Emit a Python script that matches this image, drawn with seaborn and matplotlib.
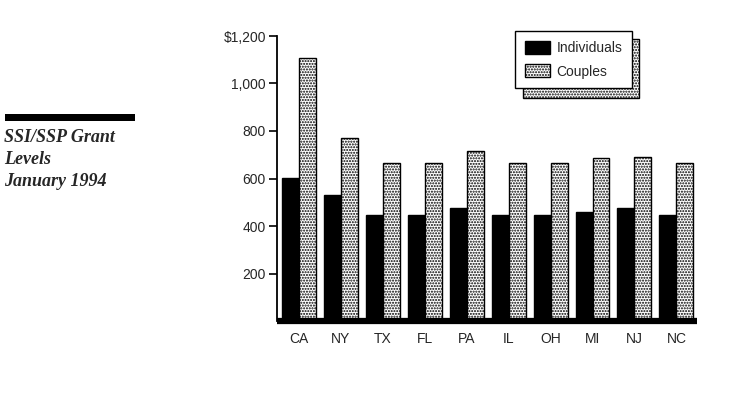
import matplotlib
matplotlib.use("Agg")
import matplotlib.pyplot as plt
import seaborn as sns
import pandas as pd
from matplotlib.patches import Rectangle, Patch

states = ["CA", "NY", "TX", "FL", "PA", "IL", "OH", "MI", "NJ", "NC"]
individuals = [602, 532, 446, 446, 476, 446, 446, 459, 476, 446]
couples = [1106, 770, 665, 665, 714, 665, 665, 686, 691, 665]
series_names = ["Individuals", "Couples"]
ytick_values = [200, 400, 600, 800, 1000, 1200]
ytick_labels = ["200", "400", "600", "800", "1,000", "$1,200"]
title_lines = "SSI/SSP Grant\nLevels\nJanuary 1994"

df = pd.DataFrame({
    "state": states * 2,
    "value": individuals + couples,
    "series": [series_names[0]] * len(states) + [series_names[1]] * len(states),
})

sns.set_style("white")
plt.rcParams["font.family"] = ["Liberation Sans", "DejaVu Sans"]
plt.rcParams["hatch.linewidth"] = 1.0

fig = plt.figure(figsize=(7.53, 4.0), dpi=100)
ax = fig.add_axes([0.368, 0.1975, 0.557, 0.7125])

sns.barplot(data=df, x="state", y="value", hue="series", order=states,
            hue_order=series_names, palette=["black", "white"],
            edgecolor="black", linewidth=1.0, width=0.81, ax=ax,
            legend=False, saturation=1)

for bar in ax.containers[1]:
    bar.set_hatch("......")
    bar.set_edgecolor("black")
    bar.set_facecolor("white")

ax.set_xlim(-0.52, 9.48)
ax.set_ylim(0, 1200)
ax.set_yticks(ytick_values)
ax.set_yticklabels(ytick_labels, fontsize=10)
ax.set_xticks(range(len(states)))
ax.set_xticklabels(states, fontsize=10)
ax.set_xlabel("")
ax.set_ylabel("")
ax.tick_params(axis="y", direction="out", length=6, width=1.2, color="black", pad=2, left=True)
ax.tick_params(axis="x", length=0, pad=8)
for s in ["top", "right"]:
    ax.spines[s].set_visible(False)
ax.spines["left"].set_linewidth(1.3)
ax.spines["left"].set_color("black")
ax.spines["bottom"].set_linewidth(4.5)
ax.spines["bottom"].set_color("black")
ax.spines["bottom"].set_capstyle("butt")

# legend shadow
shadow = Rectangle((523 / 753, 1 - 98 / 400), (639 - 523) / 753, (98 - 39) / 400,
                   transform=fig.transFigure, facecolor="white", edgecolor="black",
                   hatch="......", linewidth=1.0, zorder=1)
fig.patches.append(shadow)

handles = [Patch(facecolor="black", edgecolor="black"),
           Patch(facecolor="white", edgecolor="black", hatch="......")]
leg = fig.legend(handles, series_names, loc="upper left",
                 bbox_to_anchor=(515 / 753, 1 - 31 / 400), bbox_transform=fig.transFigure,
                 fancybox=False, frameon=True, edgecolor="black", framealpha=1,
                 fontsize=10, handlelength=1.8, handleheight=1.1, handletextpad=0.5,
                 borderpad=0.7, labelspacing=0.65, borderaxespad=0)
leg.get_frame().set_linewidth(1.0)
leg.set_zorder(5)

fig.patches.append(Rectangle((5 / 753, 1 - 121 / 400), 130 / 753, 7 / 400,
                             transform=fig.transFigure, facecolor="black",
                             edgecolor="none"))
fig.text(4 / 753, 1 - 129 / 400, title_lines, ha="left", va="top",
         fontsize=13, fontweight="bold", fontstyle="italic",
         family=["Liberation Serif", "DejaVu Serif"], linespacing=1.4)

fig.savefig("out.png", dpi=100)
